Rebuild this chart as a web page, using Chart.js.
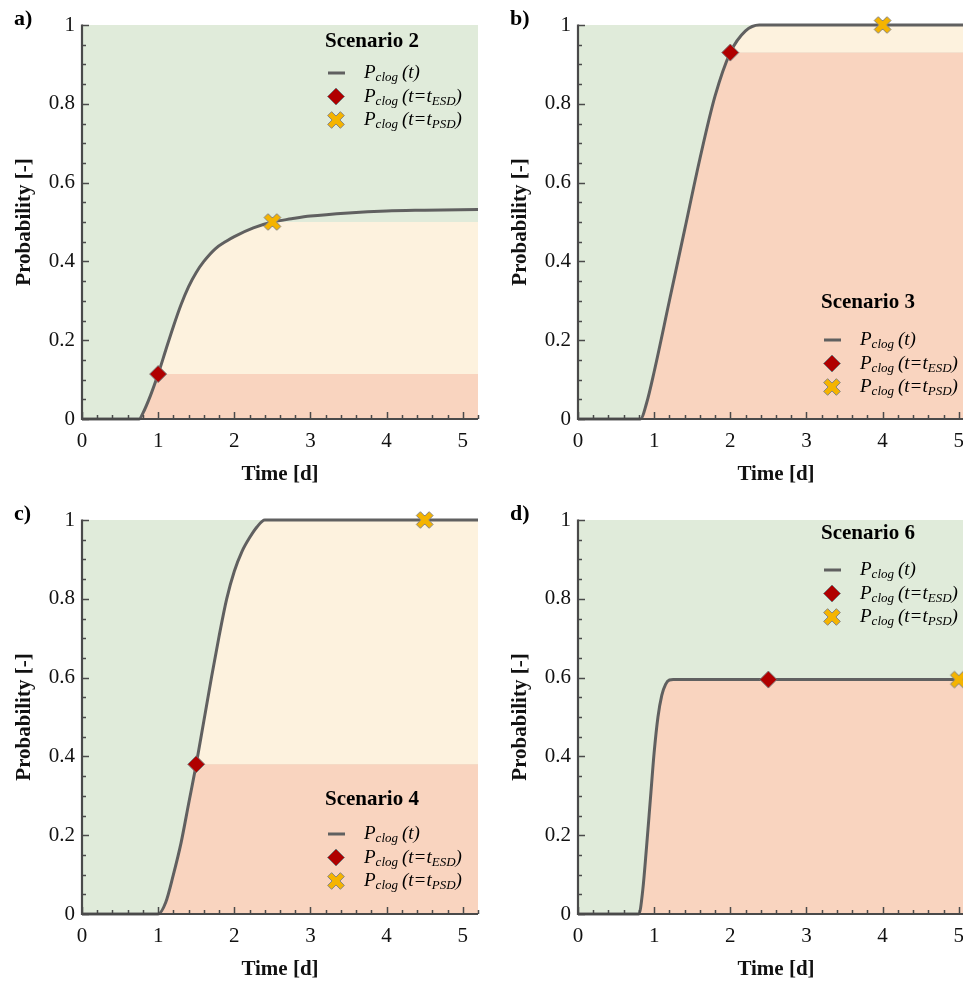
<!DOCTYPE html>
<html>
<head>
<meta charset="utf-8">
<script src="https://cdn.jsdelivr.net/npm/chart.js@4.4.1/dist/chart.umd.min.js"></script>
<style>
  html, body { margin: 0; padding: 0; background: #fff; overflow: hidden; }
  #wrap { position: relative; width: 963px; height: 983px; overflow: hidden; }
  .cell { position: absolute; width: 496px; height: 495px; }
  .cell canvas { display: block; }
</style>
</head>
<body>
<div id="wrap">
  <div class="cell" style="left:0;top:0"><canvas id="chartA" width="496" height="495"></canvas></div>
  <div class="cell" style="left:496px;top:0"><canvas id="chartB" width="496" height="495"></canvas></div>
  <div class="cell" style="left:0;top:495px"><canvas id="chartC" width="496" height="495"></canvas></div>
  <div class="cell" style="left:496px;top:495px"><canvas id="chartD" width="496" height="495"></canvas></div>
</div>
<script>
// --- data ---
// a) Scenario 2
const timeA = [0, 0.75, 0.8, 0.9, 1.0, 1.1, 1.2, 1.3, 1.4, 1.5, 1.6, 1.75, 1.9, 2.0, 2.25, 2.5, 2.75, 3.0, 3.5, 4.0, 4.5, 5.2];
const probA = [0, 0, 0.015, 0.06, 0.114, 0.175, 0.235, 0.29, 0.336, 0.372, 0.4, 0.432, 0.452, 0.463, 0.485, 0.5, 0.508, 0.515, 0.523, 0.528, 0.53, 0.532];
// b) Scenario 3
const timeB = [0, 0.82, 0.9, 1.0, 1.2, 1.4, 1.6, 1.8, 2.0, 2.2, 2.38, 3.0, 4.0, 5.2];
const probB = [0, 0, 0.04, 0.12, 0.3, 0.48, 0.66, 0.82, 0.93, 0.985, 1, 1, 1, 1];
// c) Scenario 4
const timeC = [0, 1.0, 1.1, 1.2, 1.3, 1.4, 1.5, 1.6, 1.7, 1.8, 1.9, 2.0, 2.1, 2.2, 2.3, 2.4, 3.0, 4.0, 4.5, 5.2];
const probC = [0, 0, 0.03, 0.1, 0.18, 0.28, 0.38, 0.49, 0.6, 0.705, 0.8, 0.87, 0.92, 0.955, 0.983, 1, 1, 1, 1, 1];
// d) Scenario 6
const timeD = [0, 0.8, 0.85, 0.9, 0.95, 1.0, 1.05, 1.1, 1.15, 1.2, 1.25, 2.5, 5.0, 5.2];
const probD = [0, 0, 0.06, 0.17, 0.29, 0.41, 0.5, 0.555, 0.583, 0.594, 0.595, 0.595, 0.595, 0.595];

// markers: P_clog at t_ESD and t_PSD (panels a, b, c, d)
const esdTime = [1.0, 2.0, 1.5, 2.5];
const esdProb = [0.114, 0.93, 0.38, 0.595];
const psdTime = [2.5, 4.0, 4.5, 5.0];
const psdProb = [0.5, 1.0, 1.0, 0.595];

const scenarioNames = ['Scenario 2', 'Scenario 3', 'Scenario 4', 'Scenario 6'];
const panelLetters = ['a)', 'b)', 'c)', 'd)'];
const timeTicks = [0, 1, 2, 3, 4, 5];
const legendTitleY = [42, 303, 305, 39];
const legendRowY = [73, 340, 339, 75];

const GREEN = '#e0ebda', YELLOW = '#fdf2de', SALMON = '#f9d4bf';
const LINE = '#606060', AXIS = '#4a4a4a';
const SERIF = '"Liberation Serif", "Times New Roman", serif';

// yellow cross marker as a little canvas
function crossPath(ctx, cx, cy, L, w) {
  const pts = [[-w, -L], [w, -L], [w, -w], [L, -w], [L, w], [w, w], [w, L], [-w, L], [-w, w], [-L, w], [-L, -w], [-w, -w]];
  const c = Math.SQRT1_2;
  ctx.beginPath();
  pts.forEach((p, i) => {
    const x = cx + (p[0] - p[1]) * c, y = cy + (p[0] + p[1]) * c;
    if (i === 0) ctx.moveTo(x, y); else ctx.lineTo(x, y);
  });
  ctx.closePath();
}
const crossImg = document.createElement('canvas');
crossImg.width = 20; crossImg.height = 20;
(function () {
  const g = crossImg.getContext('2d');
  crossPath(g, 10, 10, 9, 2.8);
  g.fillStyle = '#f5b400'; g.fill();
  g.strokeStyle = '#858585'; g.lineWidth = 1; g.stroke();
})();

function drawDiamond(ctx, x, y, r) {
  ctx.beginPath();
  ctx.moveTo(x, y - r); ctx.lineTo(x + r, y); ctx.lineTo(x, y + r); ctx.lineTo(x - r, y);
  ctx.closePath();
  ctx.fillStyle = '#b00000'; ctx.fill();
  ctx.strokeStyle = '#7a7a7a'; ctx.lineWidth = 1; ctx.stroke();
}

// green plot background
const bgPlugin = {
  id: 'bgPlugin',
  beforeDatasetsDraw(chart) {
    const a = chart.chartArea, ctx = chart.ctx;
    ctx.save();
    ctx.fillStyle = GREEN;
    ctx.fillRect(a.left, a.top, a.right - a.left, a.bottom - a.top);
    ctx.restore();
  }
};

// axes with inward major/minor ticks
const axesPlugin = {
  id: 'axesPlugin',
  afterDatasetsDraw(chart) {
    const a = chart.chartArea, ctx = chart.ctx;
    const xs = chart.scales.x, ys = chart.scales.y;
    ctx.save();
    ctx.strokeStyle = AXIS;
    ctx.lineWidth = 1.5;
    for (let i = 0; i <= 26; i++) {
      const v = i * 0.2, px = Math.round(xs.getPixelForValue(v)) + 0.5;
      const len = (i % 5 === 0) ? 7 : 4;
      ctx.beginPath(); ctx.moveTo(px, a.bottom); ctx.lineTo(px, a.bottom - len); ctx.stroke();
    }
    for (let i = 0; i <= 20; i++) {
      const v = i * 0.05, py = Math.round(ys.getPixelForValue(v)) + 0.5;
      const len = (i % 4 === 0) ? 7 : 4;
      ctx.beginPath(); ctx.moveTo(a.left, py); ctx.lineTo(a.left + len, py); ctx.stroke();
    }
    ctx.lineWidth = 2.2;
    ctx.beginPath();
    ctx.moveTo(a.left, a.top - 0.5);
    ctx.lineTo(a.left, a.bottom);
    ctx.lineTo(a.right, a.bottom);
    ctx.stroke();
    ctx.restore();
  }
};

// legend box inside the plot + panel letter
const legendPlugin = {
  id: 'legendPlugin',
  afterDraw(chart, args, opts) {
    const ctx = chart.ctx;
    ctx.save();
    ctx.fillStyle = '#000';
    ctx.textBaseline = 'middle';
    ctx.textAlign = 'left';
    ctx.font = 'bold 22px ' + SERIF;
    ctx.fillText(opts.letter, 14, 19);

    ctx.font = 'bold 21px ' + SERIF;
    ctx.fillText(opts.title, 325, opts.titleY);

    const symX = 336, txtX = 364, step = 23.5;
    const rows = [['(t)', null], ['(t=t', 'ESD'], ['(t=t', 'PSD']];
    rows.forEach((r, i) => {
      const y = opts.rowY + i * step;
      if (i === 0) {
        ctx.fillStyle = LINE; ctx.fillRect(symX - 8, y - 1.5, 17, 3);
      } else if (i === 1) {
        drawDiamond(ctx, symX, y, 8.5);
      } else {
        ctx.drawImage(crossImg, symX - 10, y - 10);
      }
      ctx.fillStyle = '#000';
      let x = txtX;
      ctx.font = 'italic 19px ' + SERIF;
      ctx.fillText('P', x, y); x += ctx.measureText('P').width;
      ctx.font = 'italic 13px ' + SERIF;
      ctx.fillText('clog', x, y + 5); x += ctx.measureText('clog').width + 4;
      ctx.font = 'italic 19px ' + SERIF;
      ctx.fillText(r[0], x, y); x += ctx.measureText(r[0]).width;
      if (r[1]) {
        ctx.font = 'italic 13px ' + SERIF;
        ctx.fillText(r[1], x, y + 5); x += ctx.measureText(r[1]).width;
        ctx.font = 'italic 19px ' + SERIF;
        ctx.fillText(')', x, y);
      }
    });
    ctx.restore();
  }
};

function makeChart(id, idx, times, probs) {
  const curve = times.map((t, i) => ({x: t, y: probs[i]}));
  const lowFill = times.map((t, i) => ({x: t, y: Math.min(probs[i], esdProb[idx])}));
  const midFill = times.map((t, i) => ({x: t, y: Math.min(probs[i], psdProb[idx])}));
  const tickFont = {family: SERIF, size: 21};
  const titleFont = {family: SERIF, size: 21, weight: 'bold'};

  return new Chart(document.getElementById(id), {
    type: 'line',
    data: {
      datasets: [
        { // ESD marker
          data: [{x: esdTime[idx], y: esdProb[idx]}],
          showLine: false, pointStyle: 'rectRot', pointRadius: 8.5,
          pointBackgroundColor: '#b00000', pointBorderColor: '#7a7a7a', pointBorderWidth: 1,
          clip: false
        },
        { // PSD marker
          data: [{x: psdTime[idx], y: psdProb[idx]}],
          showLine: false, pointStyle: crossImg, pointRadius: 10,
          clip: false
        },
        { // P_clog(t)
          data: curve, borderColor: LINE, borderWidth: 3, pointRadius: 0,
          cubicInterpolationMode: 'monotone', fill: false, clip: false
        },
        { // below ESD level
          data: lowFill, borderWidth: 0, pointRadius: 0,
          cubicInterpolationMode: 'monotone',
          fill: 'origin', backgroundColor: SALMON
        },
        { // between ESD and PSD level
          data: midFill, borderWidth: 0, pointRadius: 0,
          cubicInterpolationMode: 'monotone',
          fill: '-1', backgroundColor: YELLOW
        }
      ]
    },
    options: {
      responsive: false,
      animation: false,
      layout: { padding: { top: 25, right: 18, left: 0, bottom: 0 } },
      plugins: {
        legend: { display: false },
        tooltip: { enabled: false },
        legendPlugin: {
          letter: panelLetters[idx], title: scenarioNames[idx],
          titleY: legendTitleY[idx], rowY: legendRowY[idx]
        }
      },
      scales: {
        x: {
          type: 'linear', min: 0, max: 5.2,
          ticks: { font: tickFont, color: '#111', padding: 10, maxRotation: 0 },
          afterBuildTicks: s => { s.ticks = timeTicks.map(v => ({value: v})); },
          afterFit: s => { s.height = 76; },
          grid: { display: false, drawTicks: false },
          border: { display: false },
          title: { display: true, text: 'Time [d]', font: titleFont, color: '#111', padding: { top: 0, bottom: 8 } }
        },
        y: {
          min: 0, max: 1,
          ticks: { stepSize: 0.2, font: tickFont, color: '#111', padding: 7,
                   callback: v => String(+v.toFixed(2)) },
          afterFit: s => { s.width = 82; },
          grid: { display: false, drawTicks: false },
          border: { display: false },
          title: { display: true, text: 'Probability [-]', font: titleFont, color: '#111', padding: { top: 12, bottom: 0 } }
        }
      }
    },
    plugins: [bgPlugin, axesPlugin, legendPlugin]
  });
}

makeChart('chartA', 0, timeA, probA);
makeChart('chartB', 1, timeB, probB);
makeChart('chartC', 2, timeC, probC);
makeChart('chartD', 3, timeD, probD);
</script>
</body>
</html>
